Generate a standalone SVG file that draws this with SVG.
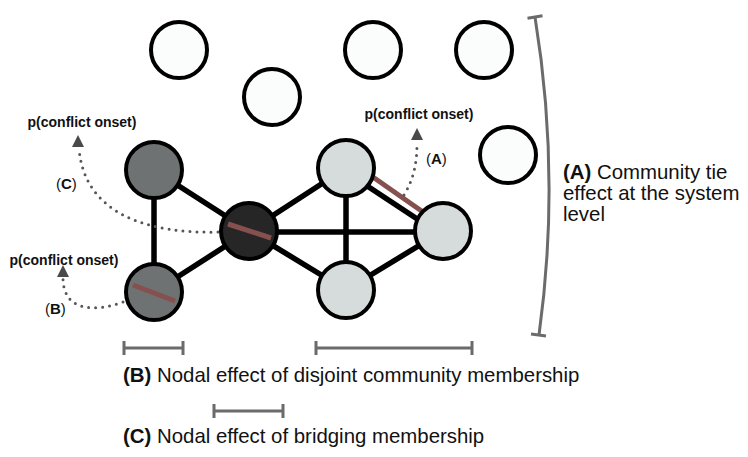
<svg xmlns="http://www.w3.org/2000/svg" width="748" height="457" viewBox="0 0 748 457">
<defs>
<style>
.node{stroke:#000;stroke-width:4}
.white{fill:#fbfdfd}
.dark{fill:#6e7272}
.center{fill:#262626}
.light{fill:#d6dcdc}
.edge{stroke:#000;stroke-width:5.5;fill:none}
.red{stroke:#85504e;stroke-width:5;fill:none}
.dot{stroke:#555;stroke-width:3;fill:none;stroke-dasharray:0 7;stroke-linecap:round}
.arr{fill:#4a4a4a}
.bar{stroke:#6b6b6b;stroke-width:3;fill:none}
.p{font-family:"Liberation Sans",Arial,sans-serif;font-weight:bold;font-size:14px;fill:#111;text-anchor:middle}
.lab{font-family:"Liberation Sans",Arial,sans-serif;font-size:15px;fill:#111}
.big{font-family:"Liberation Sans",Arial,sans-serif;font-size:20.4px;fill:#111}
.b{font-weight:bold}
</style>
</defs>
<g id="connectors">
<line class="edge" x1="154" y1="170" x2="154" y2="292"/>
<line class="edge" x1="154" y1="170" x2="249" y2="231"/>
<line class="edge" x1="154" y1="292" x2="249" y2="231"/>
<line class="edge" x1="249" y1="231" x2="346" y2="168"/>
<line class="edge" x1="249" y1="231" x2="346" y2="290"/>
<line class="edge" x1="249" y1="232" x2="443" y2="232"/>
<line class="edge" x1="346" y1="168" x2="346" y2="290"/>
<line class="edge" x1="346" y1="172" x2="443" y2="236"/>
<line class="edge" x1="346" y1="290" x2="443" y2="231"/>
<line class="red" x1="350" y1="161" x2="443" y2="226"/>
<path class="dot" d="M 218 232 C 150 234, 84 215, 79 148"/>
<polygon class="arr" points="78,135 72,147 84,147"/>
<path class="dot" d="M 123 302 C 95 312, 64 312, 63 279"/>
<polygon class="arr" points="63,265 57,277 69,277"/>
<path class="dot" d="M 404 195 C 413 180, 417 165, 417 143"/>
<polygon class="arr" points="417,128 411,140 423,140"/>
</g>
<g id="n1"><circle class="node white" cx="179" cy="50" r="28"/></g>
<g id="n2"><circle class="node white" cx="272" cy="97" r="28"/></g>
<g id="n3"><circle class="node white" cx="373" cy="50" r="28"/></g>
<g id="n4"><circle class="node white" cx="484" cy="50" r="28"/></g>
<g id="n5"><circle class="node white" cx="508" cy="155" r="28"/></g>
<g id="n6"><circle class="node dark" cx="154" cy="170" r="28"/></g>
<g id="n7"><circle class="node dark" cx="154" cy="292" r="28"/><line class="red" x1="133" y1="285" x2="175" y2="301"/></g>
<g id="n8"><circle class="node center" cx="249" cy="231" r="28"/><line class="red" x1="228" y1="224" x2="271" y2="238"/></g>
<g id="n9"><circle class="node light" cx="346" cy="168" r="28"/></g>
<g id="n10"><circle class="node light" cx="443" cy="231" r="28"/></g>
<g id="n11"><circle class="node light" cx="346" cy="290" r="28"/></g>
<g id="labels">
<text class="p" x="82" y="127">p(conflict onset)</text>
<text class="p" x="64" y="265">p(conflict onset)</text>
<text class="p" x="419" y="119">p(conflict onset)</text>
<text class="lab" x="56" y="189">(<tspan class="b">C</tspan>)</text>
<text class="lab" x="45" y="314">(<tspan class="b">B</tspan>)</text>
<text class="lab" x="426" y="164">(<tspan class="b">A</tspan>)</text>
</g>
<g id="bracketA">
<path class="bar" d="M 535 17 Q 561 176 539 335"/>
<line class="bar" x1="527.5" y1="18.2" x2="542.5" y2="15.8"/>
<line class="bar" x1="531" y1="334" x2="546" y2="336"/>
<text class="big" x="563" y="178.5"><tspan class="b">(A)</tspan> Community tie</text>
<text class="big" x="563" y="199.5">effect at the system</text>
<text class="big" x="563" y="220.5">level</text>
</g>
<g id="bars">
<path class="bar" d="M124 348 H183 M124 341 V355 M183 341 V355"/>
<path class="bar" d="M316 348 H472 M316 341 V355 M472 341 V355"/>
<path class="bar" d="M214 411 H283 M214 404 V418 M283 404 V418"/>
<text class="big" x="123" y="382"><tspan class="b">(B)</tspan> Nodal effect of disjoint community membership</text>
<text class="big" x="123" y="443"><tspan class="b">(C)</tspan> Nodal effect of bridging membership</text>
</g>
</svg>
